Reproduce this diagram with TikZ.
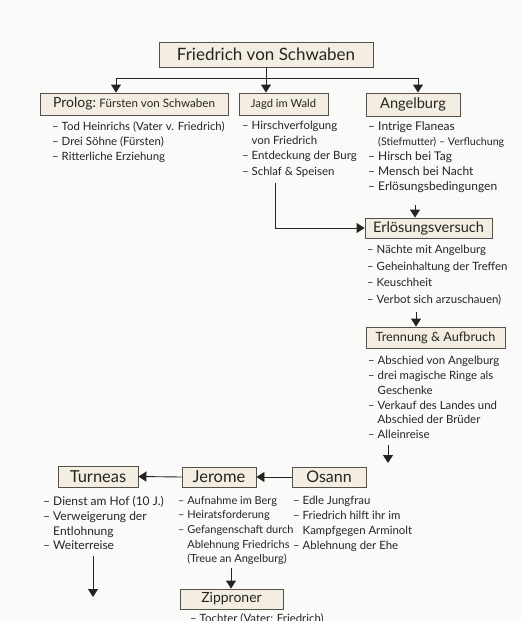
\documentclass[tikz,border=0pt]{standalone}
\usepackage{fontspec}
\setmainfont{Lato}
\usetikzlibrary{arrows.meta,calc}
\definecolor{boxfill}{HTML}{F4EEE2}
\definecolor{boxline}{HTML}{55504B}
\definecolor{ink}{HTML}{262422}
\definecolor{bg}{HTML}{FAFAF9}
\begin{document}
\begin{tikzpicture}[x=1pt,y=-1pt,
  box/.style={draw=boxline,fill=boxfill,line width=0.9pt,inner sep=0pt,text=ink},
  lst/.style={anchor=north west,inner sep=0pt,align=left,text=ink,font=\fontsize{11.4}{15.2}\selectfont},
  arr/.style={draw=ink,line width=0.9pt,-{Triangle[width=10pt,length=8pt]}}]
\fill[bg] (0,0) rectangle (521,621);
\clip (0,0) rectangle (521,621);
% boxes
\node[box,minimum width=214pt,minimum height=25pt,font=\fontsize{17}{18}\selectfont] (title) at (266,54.5) {Friedrich von Schwaben};
\node[box,minimum width=188pt,minimum height=22pt] (prolog) at (134,104) {{\fontsize{14}{15}\selectfont Prolog:} {\fontsize{11.6}{13}\selectfont Fürsten von Schwaben}};
\node[box,minimum width=89pt,minimum height=22pt,font=\fontsize{11.2}{13}\selectfont] (jagd) at (283.5,104) {Jagd im Wald};
\node[box,minimum width=94pt,minimum height=23pt,font=\fontsize{14.6}{16}\selectfont] (angel) at (413,104.5) {Angelburg};
\node[box,minimum width=127pt,minimum height=20pt,font=\fontsize{14.5}{16}\selectfont] (erl) at (428.5,228) {Erlösungsversuch};
\node[box,minimum width=139pt,minimum height=21pt,font=\fontsize{12.7}{15}\selectfont] (trenn) at (435.5,337.5) {Trennung \& Aufbruch};
\node[box,minimum width=74pt,minimum height=20pt,font=\fontsize{16}{16}\selectfont] (osann) at (329,477) {Osann};
\node[box,minimum width=74pt,minimum height=20pt,font=\fontsize{16.5}{16}\selectfont] (jerome) at (219,477) {Jerome};
\node[box,minimum width=80pt,minimum height=21pt,font=\fontsize{16.5}{16}\selectfont] (turneas) at (98,476.5) {Turneas};
\node[box,minimum width=103pt,minimum height=20pt,font=\fontsize{14}{16}\selectfont] (zipp) at (231.5,599) {Zipproner};
% lists
\node[lst] (prologlist) at (52,121) {– Tod Heinrichs (Vater v. Friedrich)\\– Drei Söhne (Fürsten)\\– Ritterliche Erziehung};
\node[lst] (jagdlist) at (242,121) {– Hirschverfolgung\\\hphantom{– }von Friedrich\\– Entdeckung der Burg\\– Schlaf \& Speisen};
\node[lst,font=\fontsize{12}{15.2}\selectfont] (angellist) at (368,121) {– Intrige Flaneas\\\hphantom{– }{\fontsize{10.6}{15.2}\selectfont(Stiefmutter) – Verfluchung}\\– Hirsch bei Tag\\– Mensch bei Nacht\\– Erlösungsbedingungen};
\node[lst,font=\fontsize{11.4}{16.5}\selectfont] (erllist) at (367,245) {– Nächte mit Angelburg\\– Geheinhaltung der Treffen\\– Keuschheit\\– Verbot sich arzuschauen)};
\node[lst,font=\fontsize{11.4}{14.8}\selectfont] (trennlist) at (368,356) {– Abschied von Angelburg\\– drei magische Ringe als\\\hphantom{– }Geschenke\\– Verkauf des Landes und\\\hphantom{– }Abschied der Brüder\\– Alleinreise};
\node[lst,font=\fontsize{12}{14.8}\selectfont] (turnlist) at (43,496) {– Dienst am Hof (10 J.)\\– Verweigerung der\\\hphantom{– }Entlohnung\\– Weiterreise};
\node[lst,font=\fontsize{11}{14.6}\selectfont] (jerlist) at (178,496) {– Aufnahme im Berg\\– Heiratsforderung\\– Gefangenschaft durch\\\hphantom{– }Ablehnung Friedrichs\\\hphantom{– }(Treue an Angelburg)};
\node[lst,font=\fontsize{11.4}{14.8}\selectfont] (osannlist) at (293,496) {– Edle Jungfrau\\– Friedrich hilft ihr im\\\hphantom{– }Kampfgegen Arminolt\\– Ablehnung der Ehe};
\node[lst] (zipplist) at (190,613) {– Tochter (Vater: Friedrich)};
% connectors
\coordinate (bar) at (266,78);
\draw[arr] (title.south) -- (title.south |- jagd.north);
\draw[arr] (bar) -| ([xshift=-18pt]prolog.north);
\draw[arr] (bar) -| ([xshift=5pt]angel.north);
\coordinate (js) at (275,183);
\draw[arr] (js) |- (erl.west);
\coordinate (a1) at (415,205);
\draw[arr] (a1) -- (a1 |- erl.north);
\coordinate (e1) at (416,312);
\draw[arr] (e1) -- (e1 |- trenn.north);
\coordinate (t1) at (388,445);
\draw[arr] (t1) -- (388,463);
\draw[arr] (osann.west) -- (jerome.east);
\draw[arr] (jerome.west) -- (turneas.east);
\coordinate (u1) at (93,556);
\coordinate (u2) at (93,597);
\draw[arr] (u1) -- (u2);
\coordinate (j1) at (231,568);
\draw[arr] (j1) -- (j1 |- zipp.north);
\end{tikzpicture}
\end{document}
